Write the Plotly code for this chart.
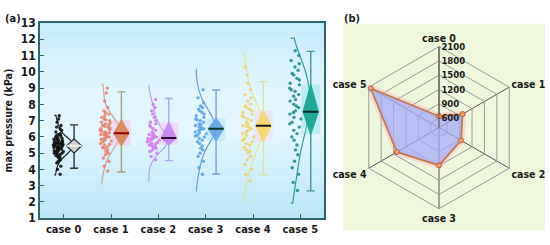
import plotly.graph_objects as go

# ---------------- data ----------------
cases = ["case 0", "case 1", "case 2", "case 3", "case 4", "case 5"]

pts_case0 = [3.7, 4.0, 4.2, 4.4, 4.5, 4.6, 4.7, 4.75, 4.8, 4.85, 4.9, 4.95, 5.0, 5.0, 5.05,
             5.1, 5.1, 5.15, 5.2, 5.2, 5.25, 5.3, 5.3, 5.35, 5.35, 5.4, 5.4, 5.45, 5.45, 5.5,
             5.5, 5.5, 5.55, 5.55, 5.6, 5.6, 5.65, 5.65, 5.7, 5.7, 5.75, 5.8, 5.8, 5.85, 5.9,
             5.9, 5.95, 6.0, 6.05, 6.1, 6.15, 6.2, 6.3, 6.4, 6.5, 6.6, 6.7, 6.9, 7.1, 7.3]
pts_case1 = [3.9, 4.2, 4.5, 4.7, 4.9, 5.0, 5.1, 5.2, 5.3, 5.35, 5.4, 5.5, 5.55, 5.6, 5.7,
             5.75, 5.8, 5.85, 5.9, 5.95, 6.0, 6.05, 6.1, 6.15, 6.2, 6.2, 6.25, 6.3, 6.35, 6.4,
             6.45, 6.5, 6.55, 6.6, 6.65, 6.7, 6.75, 6.8, 6.85, 6.9, 7.0, 7.05, 7.1, 7.2, 7.3,
             7.4, 7.5, 7.6, 7.8, 8.2, 8.7, 9.0]
pts_case2 = [4.6, 4.8, 5.0, 5.1, 5.2, 5.3, 5.35, 5.4, 5.45, 5.5, 5.55, 5.6, 5.65, 5.7, 5.75,
             5.8, 5.85, 5.9, 5.9, 5.95, 6.0, 6.05, 6.1, 6.15, 6.2, 6.3, 6.4, 6.5, 6.6, 6.7,
             6.8, 6.9, 7.0, 7.2, 7.4, 7.6, 7.8, 8.0, 8.3]
pts_case3 = [3.7, 4.1, 4.5, 4.8, 5.0, 5.2, 5.3, 5.45, 5.6, 5.7, 5.8, 5.9, 6.0, 6.05, 6.1,
             6.2, 6.25, 6.3, 6.4, 6.45, 6.5, 6.55, 6.6, 6.7, 6.75, 6.8, 6.9, 7.0, 7.05, 7.1,
             7.2, 7.3, 7.4, 7.5, 7.6, 7.7, 7.8, 7.9, 8.1, 8.4, 8.9]
pts_case4 = [3.3, 3.7, 4.0, 4.3, 4.6, 4.8, 5.0, 5.1, 5.2, 5.35, 5.5, 5.6, 5.7, 5.8, 5.9,
             6.0, 6.1, 6.2, 6.3, 6.4, 6.5, 6.6, 6.65, 6.7, 6.8, 6.9, 7.0, 7.1, 7.2, 7.3,
             7.4, 7.5, 7.6, 7.7, 7.8, 7.9, 8.0, 8.2, 8.4, 8.6, 8.9, 9.3, 9.8, 10.3]
pts_case5 = [2.7, 3.2, 3.7, 4.1, 4.5, 4.9, 5.2, 5.5, 5.8, 6.0, 6.2, 6.4, 6.6, 6.8, 6.9,
             7.1, 7.2, 7.4, 7.5, 7.6, 7.8, 7.9, 8.0, 8.2, 8.3, 8.5, 8.6, 8.8, 8.9, 9.0,
             9.2, 9.3, 9.5, 9.6, 9.8, 9.9, 10.1, 10.3, 10.5, 10.7, 11.0, 11.3]
points = [pts_case0, pts_case1, pts_case2, pts_case3, pts_case4, pts_case5]

violin_lo = [3.67, 3.09, 3.26, 2.68, 2.04, 1.93]
violin_hi = [7.32, 9.23, 9.17, 10.16, 11.2, 12.07]

box_q1 = [5.0, 5.46, 5.52, 5.75, 5.7, 6.16]
box_med = [5.46, 6.22, 5.93, 6.5, 6.68, 7.55]
box_q3 = [5.87, 7.03, 6.9, 7.14, 7.6, 9.23]
box_lo = [4.07, 3.84, 4.54, 3.72, 3.67, 2.68]
box_hi = [6.74, 8.77, 8.36, 8.88, 9.4, 11.26]

radar_values = [640, 970, 935, 1190, 1420, 2055]
radar_ticks = [600, 900, 1200, 1500, 1800, 2100]
y_ticks = list(range(1, 14))

# ---------------- styles ----------------
FONT = "Liberation Sans Narrow, DejaVu Sans Condensed, Arial Narrow, sans-serif"
pt_colors = ["#111111", "#e8826e", "#d57af0", "#5aa5e6", "#f3d06e", "#1f8f8a"]
vio_line = ["#222222", "#c8a890", "#b4a4f0", "#6a9ae0", "#e2e394", "#2a9d96"]
dia_fill = ["#d0d0d0", "#d98c5f", "#c98af5", "#6aaae8", "#f6d874", "#1fa898"]
dia_line = ["#222222", "#d98c5f", "#c98af5", "#6aaae8", "#f6d874", "#1fa898"]
whisk = ["#333333", "#a8a078", "#a8a8e8", "#7b9be0", "#d9e39a", "#3a9a9a"]
med_col = ["#f0f0f0", "#8b0000", "#2a0a30", "#0a3a2a", "#1a1a1a", "#0a2a2a"]
rect_col = ["rgba(255,255,255,0)", "rgba(255,170,210,0.35)", "rgba(255,170,230,0.35)",
            "rgba(150,220,255,0.35)", "rgba(255,200,220,0.30)", "rgba(120,220,220,0.35)"]

VOFF, BOFF, DW, RW = -0.2, 0.22, 0.16, 0.2

fig = go.Figure()

for i in range(len(cases)):
    fig.add_trace(go.Violin(
        y=points[i], x0=i + VOFF, side="positive", width=0.8, scalemode="width",
        spanmode="manual", span=[violin_lo[i], violin_hi[i]],
        points="all", pointpos=0.25, jitter=0.35,
        fillcolor="rgba(255,255,255,0)", line=dict(color=vio_line[i], width=1.2),
        marker=dict(color=pt_colors[i], size=3.4, opacity=0.9),
        box_visible=False, meanline_visible=False, showlegend=False, hoverinfo="skip",
        xaxis="x", yaxis="y"))
    xc = i + BOFF
    fig.add_trace(go.Scatter(
        x=[xc - RW, xc + RW, xc + RW, xc - RW, xc - RW],
        y=[box_q1[i], box_q1[i], box_q3[i], box_q3[i], box_q1[i]],
        fill="toself", fillcolor=rect_col[i], line=dict(width=0), mode="lines",
        showlegend=False, hoverinfo="skip"))
    fig.add_trace(go.Scatter(
        x=[xc], y=[box_med[i]], mode="markers", marker=dict(size=0.1, color=whisk[i]),
        error_y=dict(type="data", symmetric=False, array=[box_hi[i] - box_med[i]],
                     arrayminus=[box_med[i] - box_lo[i]], color=whisk[i],
                     thickness=1.4, width=4),
        showlegend=False, hoverinfo="skip"))
    fig.add_trace(go.Scatter(
        x=[xc, xc + DW, xc, xc - DW, xc],
        y=[box_q1[i], box_med[i], box_q3[i], box_med[i], box_q1[i]],
        fill="toself", fillcolor=dia_fill[i], line=dict(color=dia_line[i], width=1.2),
        mode="lines", showlegend=False, hoverinfo="skip"))
    fig.add_trace(go.Scatter(
        x=[xc - DW, xc + DW], y=[box_med[i], box_med[i]], mode="lines",
        line=dict(color=med_col[i], width=2), showlegend=False, hoverinfo="skip"))

# radar
theta = cases + [cases[0]]
rvals = radar_values + [radar_values[0]]
fig.add_trace(go.Scatterpolar(
    r=rvals, theta=theta, mode="lines", line=dict(color="rgba(255,170,200,0.35)", width=7),
    showlegend=False, hoverinfo="skip", subplot="polar"))
fig.add_trace(go.Scatterpolar(
    r=rvals, theta=theta, mode="lines+markers", fill="toself",
    fillcolor="rgba(165,170,250,0.75)", line=dict(color="#c27a48", width=1.8),
    marker=dict(size=5, color="#f0a070", line=dict(color="#c06030", width=1)),
    showlegend=False, hoverinfo="skip", subplot="polar"))

stops = [(0.0, (184, 230, 247)), (0.45, (228, 246, 253)), (0.7, (222, 244, 252)), (1.0, (196, 235, 250))]
def col_at(t):
    for k in range(len(stops) - 1):
        t0, c0 = stops[k]
        t1, c1 = stops[k + 1]
        if t0 <= t <= t1:
            f = (t - t0) / (t1 - t0)
            return "rgb(%d,%d,%d)" % tuple(round(c0[j] + f * (c1[j] - c0[j])) for j in range(3))
    return "rgb(%d,%d,%d)" % stops[-1][1]

shapes = []
NB = 30
for k in range(NB):
    shapes.append(dict(type="rect", xref="x domain", yref="y domain", x0=0, x1=1,
                       y0=k / NB, y1=(k + 1) / NB, fillcolor=col_at((k + 0.5) / NB),
                       line=dict(width=0), layer="below"))
shapes.append(dict(type="rect", xref="paper", yref="paper", x0=0.624, x1=0.991,
                   y0=0.033, y1=0.927, fillcolor="#eef7dc", line=dict(width=0), layer="below"))

AX = dict(color="#1a1a1a", size=11, family=FONT, weight="bold")
AXP = dict(color="#1a1a1a", size=10.5, family=FONT, weight="bold")

fig.update_layout(
    width=550, height=245, margin=dict(l=0, r=0, t=0, b=0),
    paper_bgcolor="white", plot_bgcolor="#d6f2fb",
    shapes=shapes,
    font=dict(family=FONT, color="#1a1a1a"),
    xaxis=dict(domain=[40 / 550, 324 / 550], range=[-0.5, 5.5],
               tickvals=list(range(len(cases))), ticktext=cases, tickfont=AX,
               showgrid=False, zeroline=False, showline=True, mirror=True,
               linecolor="#2d6868", linewidth=1.6, ticks="inside", ticklen=4,
               tickcolor="#2d6868"),
    yaxis=dict(domain=[21 / 245, 228 / 245], range=[1, 13], tickvals=y_ticks,
               tickfont=dict(color="#1a1a1a", size=12, family=FONT, weight="bold"),
               showgrid=False, zeroline=False, showline=True, mirror=True,
               linecolor="#2d6868", linewidth=1.6, ticks="inside", ticklen=4,
               tickcolor="#2d6868",
               title=dict(text="max pressure (kPa)", standoff=6,
                          font=dict(color="#1a1a1a", size=10.5, family=FONT, weight="bold"))),
    polar=dict(
        domain=dict(x=[353 / 550, 525 / 550], y=[31 / 245, 203 / 245]),
        bgcolor="rgba(0,0,0,0)", gridshape="linear",
        angularaxis=dict(rotation=90, direction="clockwise", tickfont=AXP,
                         linecolor="#999999", gridcolor="#555555", showline=True,
                         ticks=""),
        radialaxis=dict(range=[400, 2100], tickvals=radar_ticks, angle=90,
                        tickangle=90, side="clockwise",
                        tickfont=dict(color="#1a1a1a", size=9.5, family=FONT, weight="bold"),
                        gridcolor="#9a9a9a", linecolor="#555555", showline=True,
                        ticks="")),
    annotations=[
        dict(text="(a)", x=3 / 550, y=1 - 12 / 245, xref="paper", yref="paper",
             xanchor="left", yanchor="middle", showarrow=False, font=AX),
        dict(text="(b)", x=342 / 550, y=1 - 12 / 245, xref="paper", yref="paper",
             xanchor="left", yanchor="middle", showarrow=False, font=AX),
    ],
)

fig.write_html("out.html")
